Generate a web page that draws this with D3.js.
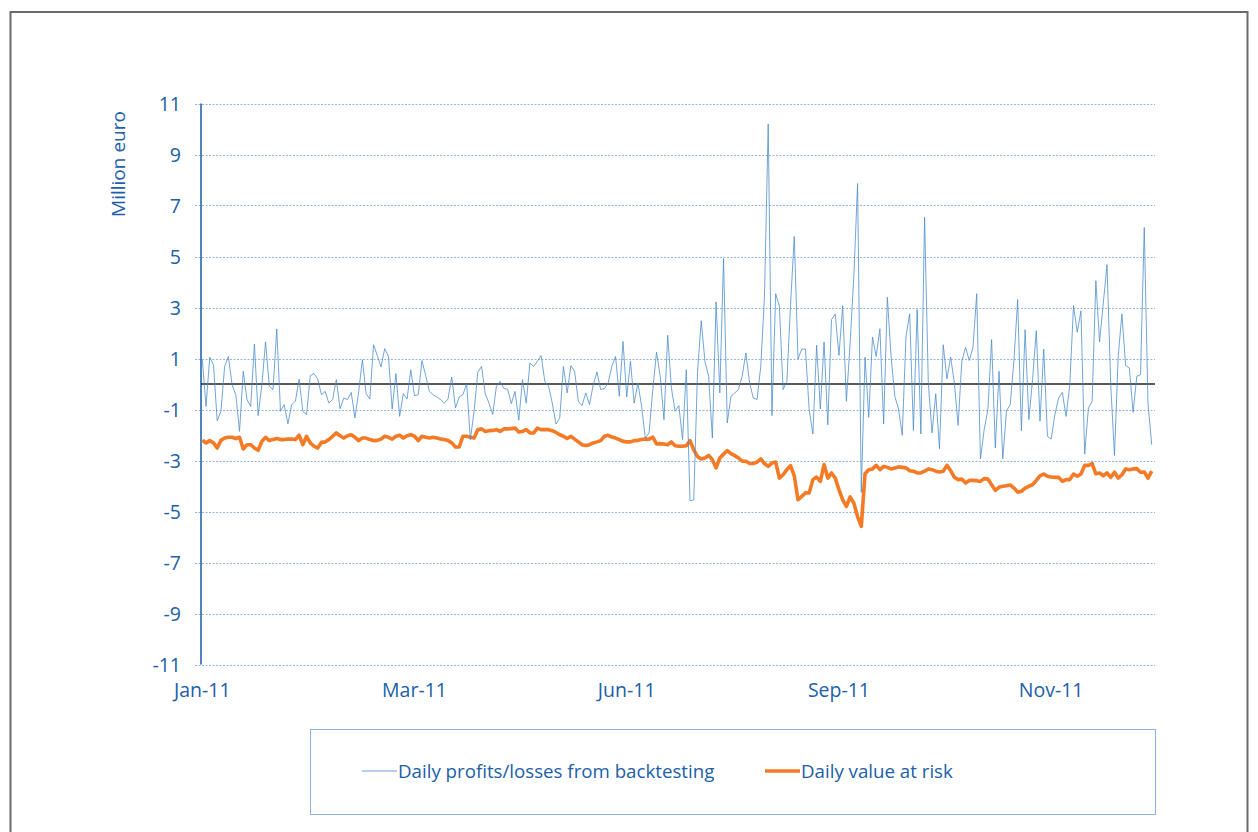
<!DOCTYPE html>
<html>
<head>
<meta charset="utf-8">
<script src="https://cdn.jsdelivr.net/npm/d3@7"></script>
<style>
  html, body { margin: 0; padding: 0; background: #fff; }
  svg { display: block; font-family: "Open Sans", "Noto Sans", sans-serif; }
</style>
</head>
<body>
<div id="chart"></div>
<script>
// daily P&L from backtesting, million euro
const profitLoss = [
  0.95, -0.88, 1.05, 0.76, -1.44, -1.07, 0.69, 1.08, -0.03, -0.42, -1.86, 0.5, -0.61, -0.88, 1.57, -1.24, -0.03, 1.65, -0.09, -0.22, 2.16, -1.07, -0.81, -1.56, -0.81, -0.68, 0.2, -1.07, -1.2, 0.33, 0.41, 0.2, -0.42, -0.29, -0.75, -0.61, 0.17, -0.97, -0.55, -0.61, -0.33, -1.33, -0.29, 0.95,
  -0.38, -0.59, 1.54, 1.12, 0.67, 1.39, 1.08, -0.98, 0.41, -1.27, -0.38, -0.59, 0.56, -0.46, -0.42, 0.92, 0.33, -0.29, -0.42, -0.51, -0.61, -0.75, -0.59, 0.27, -0.94, -0.51, -0.42, 0.01, -2.18, -1.07, 0.46, 0.69, -0.38, -0.75, -1.2, -0.09, 0.1, -0.18, -0.2, -0.77, -0.29, -1.42, 0.17, -0.75,
  0.82, 0.69, 0.89, 1.12, 0.1, -0.09, -0.75, -1.57, -1.33, 0.69, -0.35, 0.72, 0.5, -0.68, -0.85, -0.35, -0.81, -0.03, 0.47, -0.22, -0.18, 0.04, 0.69, 1.08, -0.48, 1.67, -0.51, 0.89, -0.75, 0.04, -0.88, -2.12, -1.92, -0.22, 1.25, 0.3, -1.4, 1.91, -0.16, -1.07, -0.85, -2.18, 0.56, -4.58, -4.54,
  0.43, 2.48, 0.89, 0.3, -2.12, 3.22, -0.35, 4.92, -1.53, -0.48, -0.35, -0.22, 0.3, 1.22, 0.04, -0.55, -0.61, 0.69, 3.44, 10.2, -1.24, 3.54, 3.05, -0.22, 0.1, 3.11, 5.79, 0.98, 1.37, 1.37, -1.0, -1.96, 1.52, -0.98, 1.65, -1.6, 2.52, 2.75, 1.12, 3.07, -0.68, 1.61, 4.22, 7.86,
  -4.25, 1.05, -1.31, 1.84, 1.08, 2.17, -1.57, 3.4, 1.08, -0.48, -0.98, -2.01, 1.87, 2.75, -1.82, 2.92, -1.96, 6.54, 0.04, -1.92, -0.38, -2.54, 1.54, 0.2, 1.06, 0.04, -1.62, 0.89, 1.44, 0.92, 1.44, 3.54, -2.94, -1.79, -1.0, 1.74, -2.51, 0.5, -2.93, -1.05, -0.81, 0.93, 3.31, -1.83,
  2.13, -1.4, 0.17, 2.09, -1.46, 1.37, -2.05, -2.16, -1.2, -0.55, -0.33, -1.27, -0.03, 3.07, 2.03, 2.87, -2.75, -0.94, -0.68, 4.05, 1.65, 3.18, 4.68, -0.03, -2.8, 1.08, 2.75, 0.72, 0.63, -1.11, 0.3, 0.37, 6.14, -0.75, -2.38
];

// daily value at risk, million euro
const valueAtRisk = [
  -2.21, -2.31, -2.22, -2.31, -2.51, -2.21, -2.12, -2.09, -2.09, -2.14, -2.09, -2.55, -2.38, -2.38, -2.51, -2.6, -2.25, -2.09, -2.22, -2.18, -2.14, -2.18, -2.18, -2.16, -2.16, -2.18, -2.01, -2.38, -2.05, -2.31, -2.44, -2.51, -2.29, -2.27, -2.18, -2.05, -1.92, -2.03, -2.12, -2.03, -1.99, -2.09, -2.22, -2.12,
  -2.12, -2.18, -2.22, -2.21, -2.16, -2.05, -2.09, -2.16, -2.05, -2.01, -2.12, -2.03, -1.99, -2.05, -2.22, -2.05, -2.09, -2.12, -2.09, -2.12, -2.16, -2.18, -2.22, -2.31, -2.47, -2.47, -2.05, -2.05, -2.09, -2.12, -1.79, -1.76, -1.86, -1.83, -1.82, -1.79, -1.86, -1.76, -1.76, -1.75, -1.73, -1.88, -1.86, -1.79,
  -1.92, -1.92, -1.73, -1.79, -1.79, -1.79, -1.83, -1.9, -1.99, -2.05, -2.14, -2.05, -2.16, -2.27, -2.38, -2.41, -2.38, -2.31, -2.27, -2.22, -2.05, -2.01, -2.08, -2.12, -2.18, -2.25, -2.27, -2.27, -2.22, -2.21, -2.18, -2.16, -2.16, -2.08, -2.35, -2.34, -2.35, -2.38, -2.27, -2.42, -2.44, -2.44, -2.42, -2.22, -2.58,
  -2.84, -2.94, -2.9, -2.8, -2.97, -3.29, -2.9, -2.75, -2.61, -2.73, -2.81, -2.9, -3.03, -3.03, -3.12, -3.12, -3.06, -2.94, -3.12, -3.23, -3.1, -3.06, -3.69, -3.56, -3.36, -3.2, -3.6, -4.54, -4.41, -4.27, -4.27, -3.75, -3.65, -3.82, -3.16, -3.69, -3.49, -3.69, -4.14, -4.54, -4.8, -4.43, -4.67, -5.2,
  -5.58, -3.52, -3.36, -3.33, -3.19, -3.36, -3.23, -3.27, -3.33, -3.29, -3.25, -3.27, -3.29, -3.4, -3.42, -3.49, -3.49, -3.42, -3.33, -3.36, -3.42, -3.45, -3.42, -3.19, -3.4, -3.66, -3.75, -3.73, -3.88, -3.78, -3.78, -3.79, -3.82, -3.71, -3.73, -3.95, -4.17, -4.05, -4.01, -3.99, -3.96, -4.08, -4.24, -4.21,
  -4.08, -4.01, -3.95, -3.78, -3.6, -3.53, -3.62, -3.65, -3.66, -3.66, -3.82, -3.75, -3.75, -3.53, -3.62, -3.53, -3.19, -3.19, -3.12, -3.52, -3.49, -3.6, -3.49, -3.66, -3.46, -3.69, -3.56, -3.33, -3.36, -3.33, -3.32, -3.46, -3.45, -3.69, -3.42
];

const yTicks = [11, 9, 7, 5, 3, 1, -1, -3, -5, -7, -9, -11];
const xTickIndex = [0, 57, 114, 171, 228];
const xTickLabels = ['Jan-11', 'Mar-11', 'Jun-11', 'Sep-11', 'Nov-11'];
const seriesNames = ['Daily profits/losses from backtesting', 'Daily value at risk'];

const width = 1258, height = 832;
const plot = { left: 201, right: 1155, top: 103.5, bottom: 664.5 };
const textBlue = '#2060a8';

const svg = d3.select('#chart').append('svg')
  .attr('width', width)
  .attr('height', height);

// outer frame
svg.append('rect')
  .attr('x', 10.5).attr('y', 12)
  .attr('width', 1237).attr('height', 840)
  .attr('fill', 'none')
  .attr('stroke', '#6b6b6b')
  .attr('stroke-width', 2);

const x = d3.scaleLinear()
  .domain([0, profitLoss.length - 1])
  .range([202.3, 1151.7]);

const y = d3.scaleLinear()
  .domain([-11, 11])
  .range([plot.bottom, plot.top]);

// gridlines
svg.append('g').attr('class', 'grid')
  .selectAll('line')
  .data(yTicks)
  .join('line')
  .attr('x1', plot.left - 6)
  .attr('x2', plot.right)
  .attr('y1', d => Math.round(y(d)) + 0.5)
  .attr('y2', d => Math.round(y(d)) + 0.5)
  .attr('stroke', '#93b6dc')
  .attr('stroke-width', 1)
  .attr('stroke-dasharray', '2,1.5');

// tick labels
svg.append('g').attr('class', 'y-labels')
  .selectAll('text')
  .data(yTicks)
  .join('text')
  .attr('x', 181)
  .attr('y', d => y(d))
  .attr('dy', '0.36em')
  .attr('text-anchor', 'end')
  .attr('fill', textBlue)
  .style('font-size', '19.5px')
  .text(d => d);

svg.append('text')
  .attr('transform', 'translate(125,164) rotate(-90)')
  .attr('text-anchor', 'middle')
  .attr('fill', textBlue)
  .style('font-size', '19px')
  .text('Million euro');

svg.append('g').attr('class', 'x-labels')
  .selectAll('text')
  .data(xTickIndex)
  .join('text')
  .attr('x', d => x(d))
  .attr('y', 697)
  .attr('text-anchor', 'middle')
  .attr('fill', textBlue)
  .style('font-size', '19.5px')
  .text((d, i) => xTickLabels[i]);

// y axis line
svg.append('line')
  .attr('x1', plot.left).attr('x2', plot.left)
  .attr('y1', plot.top).attr('y2', plot.bottom)
  .attr('stroke', '#1a5aa6')
  .attr('stroke-width', 1.5);

// zero line
svg.append('line')
  .attr('x1', plot.left).attr('x2', plot.right)
  .attr('y1', y(0)).attr('y2', y(0))
  .attr('stroke', '#222')
  .attr('stroke-width', 1.3);

const line = d3.line()
  .x((d, i) => x(i))
  .y(d => y(d));

svg.append('path')
  .datum(valueAtRisk)
  .attr('fill', 'none')
  .attr('stroke', '#f47a25')
  .attr('stroke-width', 3.6)
  .attr('stroke-linejoin', 'round')
  .attr('d', line);

svg.append('path')
  .datum(profitLoss)
  .attr('fill', 'none')
  .attr('stroke', '#4a8ccc')
  .attr('stroke-opacity', 0.78)
  .attr('stroke-width', 1)
  .attr('d', line);

// legend
const legend = svg.append('g').attr('class', 'legend');
legend.append('rect')
  .attr('x', 310.5).attr('y', 729.5)
  .attr('width', 845).attr('height', 85)
  .attr('fill', 'none')
  .attr('stroke', '#8cb2dc')
  .attr('stroke-width', 1);

const legendItems = [
  { x: 362, color: '#6a9fd4', w: 1 },
  { x: 765, color: '#f47a25', w: 3.6 }
];
legendItems.forEach((item, i) => {
  legend.append('line')
    .attr('x1', item.x).attr('x2', item.x + 35)
    .attr('y1', 771).attr('y2', 771)
    .attr('stroke', item.color)
    .attr('stroke-width', item.w);
  legend.append('text')
    .attr('x', item.x + 36)
    .attr('y', 771)
    .attr('dy', '0.36em')
    .attr('fill', textBlue)
    .style('font-size', '18.7px')
    .text(seriesNames[i]);
});
</script>
</body>
</html>
